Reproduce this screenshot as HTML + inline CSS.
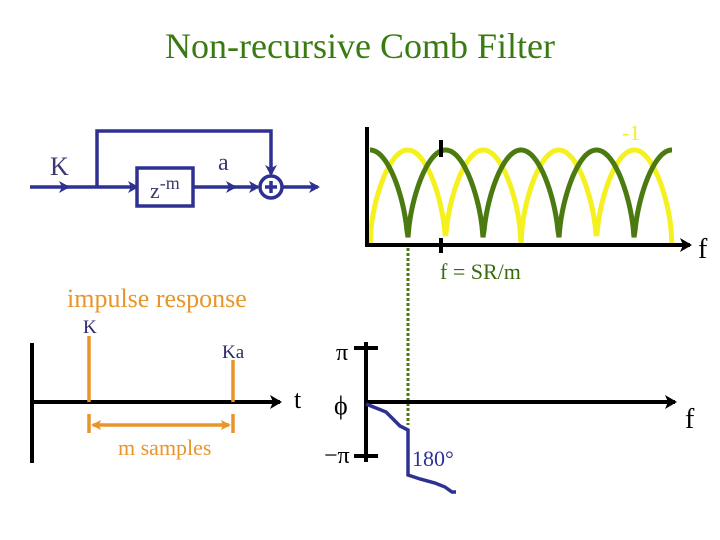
<!DOCTYPE html>
<html><head><meta charset="utf-8"><style>
body{margin:0;background:#fff}
svg{display:block}
text{font-family:"Liberation Serif",serif}
</style></head><body>
<svg width="720" height="540" viewBox="0 0 720 540" xmlns="http://www.w3.org/2000/svg">
<defs>
<marker id="ab" markerWidth="12" markerHeight="12" refX="9" refY="6" orient="auto" markerUnits="userSpaceOnUse"><path d="M0,0 L11,6 L0,12 L3,6z" fill="#2e3192"/></marker>
<marker id="ak" markerWidth="14" markerHeight="14" refX="10" refY="7" orient="auto" markerUnits="userSpaceOnUse"><path d="M0,0 L12,7 L0,14 L3,7z" fill="#000"/></marker>
<marker id="ao" markerWidth="10" markerHeight="10" refX="8" refY="5" orient="auto-start-reverse" markerUnits="userSpaceOnUse"><path d="M0,0 L10,5 L0,10 L2,5z" fill="#e8952a"/></marker>
</defs>
<text x="360" y="58" font-size="36" fill="#3a7a12" text-anchor="middle">Non-recursive Comb Filter</text>
<g stroke="#2e3192" stroke-width="3.5" fill="none">
<line x1="30" y1="187" x2="68" y2="187" marker-end="url(#ab)"/>
<line x1="66" y1="187" x2="137" y2="187" marker-end="url(#ab)"/>
<polyline points="97,187 97,131 271,131 271,174" marker-end="url(#ab)"/>
<rect x="137" y="168" width="56" height="38"/>
<line x1="193" y1="187" x2="235" y2="187" marker-end="url(#ab)"/>
<line x1="233" y1="187" x2="258" y2="187" marker-end="url(#ab)"/>
<circle cx="271" cy="187" r="11"/>
<line x1="265" y1="187" x2="277" y2="187"/>
<line x1="271" y1="181" x2="271" y2="193"/>
<line x1="282" y1="187" x2="318" y2="187" marker-end="url(#ab)"/>
</g>
<text x="50" y="175" font-size="26" fill="#3a3a70">K</text>
<text x="218" y="170" font-size="24" fill="#3a3a70">a</text>
<text x="150" y="198" font-size="22" fill="#3a3a70">z<tspan dy="-9" font-size="18">-m</tspan></text>
<path id="yel" fill="none" stroke="#f5f020" stroke-width="5"/>
<path id="grn" fill="none" stroke="#4a7a10" stroke-width="5"/>
<line x1="367" y1="127" x2="367" y2="246" stroke="#000" stroke-width="4"/>
<line x1="365" y1="245" x2="690" y2="245" stroke="#000" stroke-width="4" marker-end="url(#ak)"/>
<line x1="441" y1="140" x2="441" y2="157" stroke="#000" stroke-width="4"/>
<line x1="441" y1="238" x2="441" y2="253" stroke="#000" stroke-width="4"/>
<line x1="408" y1="248" x2="408" y2="425" stroke="#4a7a10" stroke-width="3" stroke-dasharray="3,2"/>
<text x="622" y="140" font-size="22" fill="#f5f020">-1</text>
<text x="698" y="258" font-size="28">f</text>
<text x="440" y="279" font-size="22" fill="#3a6a10">f = SR/m</text>
<text x="67" y="307" font-size="26" fill="#e8952a">impulse response</text>
<line x1="32" y1="343" x2="32" y2="463" stroke="#000" stroke-width="4"/>
<line x1="32" y1="402" x2="280" y2="402" stroke="#000" stroke-width="4" marker-end="url(#ak)"/>
<text x="294" y="408" font-size="26">t</text>
<line x1="89" y1="336" x2="89" y2="402" stroke="#e8952a" stroke-width="3.5"/>
<line x1="233" y1="360" x2="233" y2="402" stroke="#e8952a" stroke-width="3.5"/>
<text x="83" y="333" font-size="19" fill="#2a2a6a">K</text>
<text x="222" y="358" font-size="19" fill="#2a2a6a">Ka</text>
<line x1="89" y1="414" x2="89" y2="433" stroke="#e8952a" stroke-width="3.5"/>
<line x1="233" y1="414" x2="233" y2="433" stroke="#e8952a" stroke-width="3.5"/>
<line x1="93" y1="425" x2="229" y2="425" stroke="#e8952a" stroke-width="3.5" marker-start="url(#ao)" marker-end="url(#ao)"/>
<text x="118" y="455" font-size="22" fill="#e8952a">m samples</text>
<line x1="366" y1="342" x2="366" y2="462" stroke="#000" stroke-width="4"/>
<line x1="354" y1="348" x2="378" y2="348" stroke="#000" stroke-width="4"/>
<line x1="354" y1="456" x2="378" y2="456" stroke="#000" stroke-width="4"/>
<line x1="366" y1="402" x2="675" y2="402" stroke="#000" stroke-width="4" marker-end="url(#ak)"/>
<text x="336" y="360" font-size="24">π</text>
<text x="334" y="414" font-size="26">ϕ</text>
<text x="324" y="463" font-size="24">−π</text>
<text x="685" y="428" font-size="28">f</text>
<polyline points="366,404 376,408 386,412 392,418 400,426 408,430 408,475 420,479 435,483 445,487 452,492 456,492" fill="none" stroke="#2e3192" stroke-width="3.5"/>
<text x="412" y="466" font-size="22" fill="#2e3192">180°</text>
</svg>
<script>
function build(fn){
 let d="";
 for(let x=370;x<=672;x++){
  let y=245-95*Math.pow(Math.abs(fn(Math.PI*(x-370)/75.5)),0.55);
  d+=(x===370?"M":"L")+x+","+y.toFixed(1)+" ";
 }
 return d;
}
document.getElementById("grn").setAttribute("d",build(Math.cos));
document.getElementById("yel").setAttribute("d",build(Math.sin));
</script>
</body></html>
